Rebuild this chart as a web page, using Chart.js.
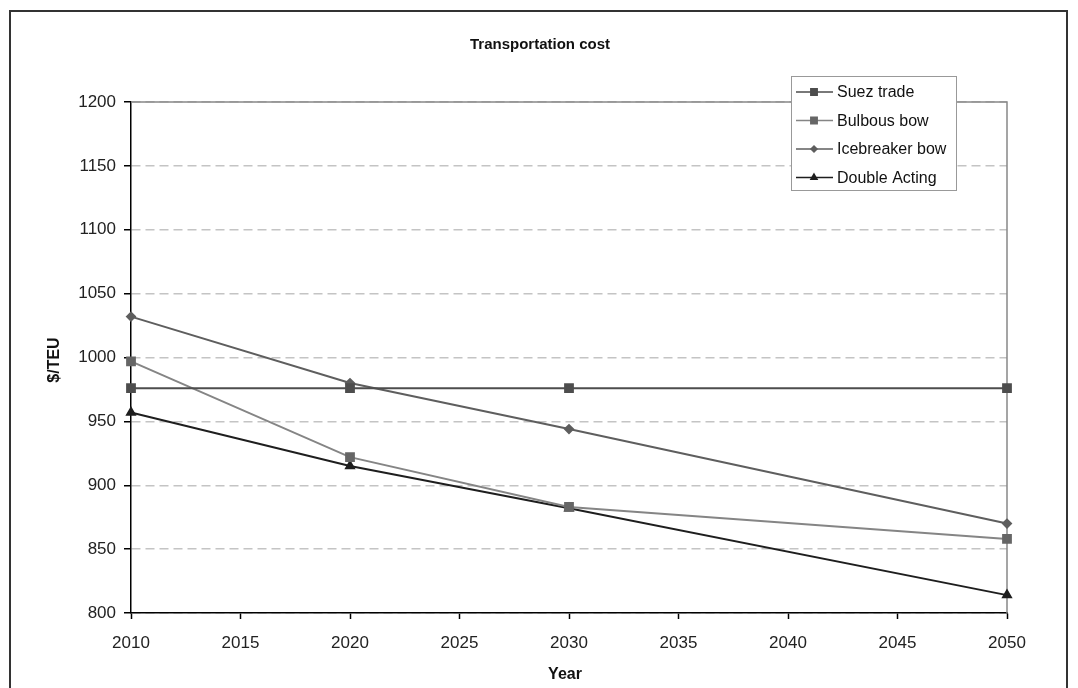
<!DOCTYPE html>
<html>
<head>
<meta charset="utf-8">
<script src="https://cdn.jsdelivr.net/npm/chart.js@4.4.1/dist/chart.umd.min.js"></script>
<style>
  html, body { margin: 0; padding: 0; background: #fff; }
  #wrap { width: 1078px; height: 688px; }
</style>
</head>
<body>
<div id="wrap"><canvas id="chart"></canvas></div>
<script>
// data
const aYears = [2010, 2020, 2030, 2050];
const aSuez = [976, 976, 976, 976];
const aBulbous = [997, 922, 883, 858];
const aIcebreaker = [1032, 980, 944, 870];
const aDouble = [957, 915, 882, 814];
const aYTicks = [800, 850, 900, 950, 1000, 1050, 1100, 1150, 1200];
const aXTicks = [2010, 2015, 2020, 2025, 2030, 2035, 2040, 2045, 2050];

const sFont = "'Liberation Sans', Arial, sans-serif";
Chart.defaults.font.family = sFont;
Chart.defaults.font.size = 17;
Chart.defaults.color = "#222";

function toPoints(aVals) {
    return aVals.map((v, i) => ({ x: aYears[i], y: v }));
}

// frame, titles, plot border, legend
const decorPlugin = {
    id: "decor",
    beforeDatasetsDraw(chart) {
        const ctx = chart.ctx;
        const a = chart.chartArea;
        ctx.save();
        // plot border top / right
        ctx.strokeStyle = "#888";
        ctx.lineWidth = 1.5;
        ctx.beginPath();
        ctx.moveTo(a.left, a.top);
        ctx.lineTo(a.right, a.top);
        ctx.lineTo(a.right, a.bottom);
        ctx.stroke();
        ctx.restore();
    },
    afterDraw(chart) {
        const ctx = chart.ctx;
        ctx.save();

        // outer frame
        ctx.strokeStyle = "#333";
        ctx.lineWidth = 2;
        ctx.strokeRect(10, 11, 1057, 700);

        // title
        ctx.fillStyle = "#111";
        ctx.textAlign = "center";
        ctx.textBaseline = "middle";
        ctx.font = "bold 15px 'Liberation Sans Narrow', 'Liberation Sans', Arial";
        ctx.fillText("Transportation cost", 540, 45);

        // axis titles
        ctx.font = "bold 16px " + sFont;
        ctx.fillText("Year", 565, 675);
        ctx.save();
        ctx.translate(55, 360);
        ctx.rotate(-Math.PI / 2);
        ctx.fillText("$/TEU", 0, 0);
        ctx.restore();

        // legend
        const x0 = 791, y0 = 76, w = 165, h = 114;
        ctx.fillStyle = "#fff";
        ctx.fillRect(x0, y0, w, h);
        ctx.strokeStyle = "#999";
        ctx.lineWidth = 1;
        ctx.strokeRect(x0 + 0.5, y0 + 0.5, w, h);
        ctx.font = "16px " + sFont;
        ctx.textAlign = "left";
        chart.data.datasets.forEach((ds, i) => {
            const y = 92 + i * 28.5;
            ctx.strokeStyle = ds.borderColor;
            ctx.lineWidth = 1.5;
            ctx.beginPath();
            ctx.moveTo(796, y);
            ctx.lineTo(833, y);
            ctx.stroke();
            ctx.fillStyle = ds.pointBackgroundColor;
            ctx.strokeStyle = ds.pointBackgroundColor;
            Chart.helpers.drawPoint(ctx, {
                pointStyle: ds.pointStyle,
                radius: ds.pointRadius - 1,
                rotation: 0,
                borderWidth: 1
            }, 814, y);
            ctx.fillStyle = "#111";
            ctx.fillText(ds.label, 837, y + 1);
        });
        ctx.restore();
    }
};

const ctx = document.getElementById("chart").getContext("2d");
new Chart(ctx, {
    type: "line",
    data: {
        datasets: [
            {
                label: "Suez trade",
                data: toPoints(aSuez),
                borderColor: "#4d4d4d",
                backgroundColor: "#4d4d4d",
                pointBackgroundColor: "#4d4d4d",
                pointBorderColor: "#4d4d4d",
                pointStyle: "rect",
                pointRadius: 5.5,
                borderWidth: 2
            },
            {
                label: "Bulbous bow",
                data: toPoints(aBulbous),
                borderColor: "#858585",
                backgroundColor: "#666",
                pointBackgroundColor: "#666",
                pointBorderColor: "#666",
                pointStyle: "rect",
                pointRadius: 5.5,
                borderWidth: 2
            },
            {
                label: "Icebreaker bow",
                data: toPoints(aIcebreaker),
                borderColor: "#5e5e5e",
                backgroundColor: "#5e5e5e",
                pointBackgroundColor: "#5e5e5e",
                pointBorderColor: "#5e5e5e",
                pointStyle: "rectRot",
                pointRadius: 4,
                borderWidth: 2
            },
            {
                label: "Double Acting",
                data: toPoints(aDouble),
                borderColor: "#1e1e1e",
                backgroundColor: "#1e1e1e",
                pointBackgroundColor: "#1e1e1e",
                pointBorderColor: "#1e1e1e",
                pointStyle: "triangle",
                pointRadius: 4.5,
                borderWidth: 2
            }
        ]
    },
    options: {
        responsive: true,
        maintainAspectRatio: false,
        animation: false,
        clip: false,
        layout: {
            padding: { top: 102, right: 71, bottom: 0, left: 0 }
        },
        plugins: {
            legend: { display: false },
            title: { display: false },
            tooltip: { enabled: false }
        },
        scales: {
            x: {
                type: "linear",
                min: 2010,
                max: 2050,
                afterFit: function (scale) { scale.height = 75; },
                afterBuildTicks: function (scale) {
                    scale.ticks = aXTicks.map(v => ({ value: v }));
                },
                grid: {
                    drawOnChartArea: false,
                    tickLength: 6,
                    tickColor: "#000",
                    tickWidth: 1.5
                },
                border: { color: "#000", width: 1.5 },
                ticks: {
                    padding: 14,
                    maxRotation: 0,
                    callback: v => String(v)
                }
            },
            y: {
                min: 800,
                max: 1200,
                afterFit: function (scale) { scale.width = 131; },
                afterBuildTicks: function (scale) {
                    scale.ticks = aYTicks.map(v => ({ value: v }));
                },
                grid: {
                    color: "#c4c4c4",
                    lineWidth: 1.5,
                    tickLength: 7,
                    tickColor: "#000",
                    tickWidth: 1.5
                },
                border: { color: "#000", width: 1.5, dash: [9, 5] },
                ticks: {
                    padding: 8,
                    callback: v => String(v)
                }
            }
        }
    },
    plugins: [decorPlugin]
});
</script>
</body>
</html>
